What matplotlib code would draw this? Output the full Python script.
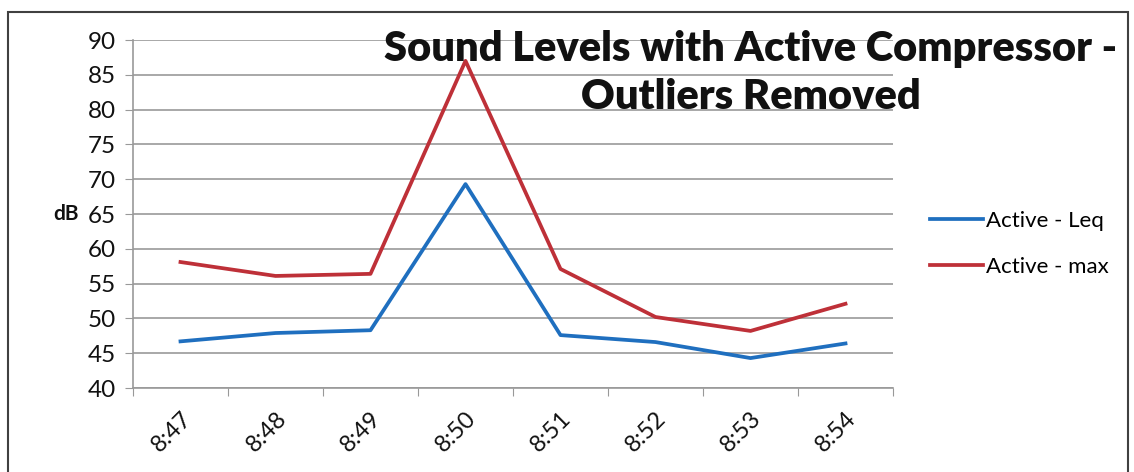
import matplotlib
matplotlib.use('Agg')
import matplotlib.pyplot as plt
from matplotlib.patches import Rectangle

times = ['8:47', '8:48', '8:49', '8:50', '8:51', '8:52', '8:53', '8:54']
leq = [46.7, 47.9, 48.3, 69.3, 47.6, 46.6, 44.3, 46.4]
lmax = [58.1, 56.1, 56.4, 87.0, 57.1, 50.2, 48.2, 52.1]

plt.rcParams['font.family'] = ['Lato', 'DejaVu Sans']

fig = plt.figure(figsize=(11.34, 4.72), dpi=100)
fig.patch.set_facecolor('white')

# outer chart frame
fig.patches.append(Rectangle((8 / 1134, -0.02), 1120 / 1134, 1 - 12 / 472 + 0.02,
                             transform=fig.transFigure, fill=False,
                             edgecolor='#404040', linewidth=1.5))

ax = fig.add_axes([133 / 1134, 84 / 472, 760 / 1134, 348 / 472])
x = list(range(len(times)))
ax.plot(x, leq, color='#1f6fbf', linewidth=2.7, label='Active - Leq')
ax.plot(x, lmax, color='#be3038', linewidth=2.7, label='Active - max')

ax.set_xlim(-0.5, len(times) - 0.5)
ax.set_ylim(40, 90)
ax.set_yticks(range(40, 91, 5))
ax.set_xticks([i - 0.5 for i in range(len(times) + 1)], minor=False)
ax.set_xticklabels([])
ax.set_xticks(x, minor=True)
ax.set_xticklabels(times, minor=True, rotation=45, ha='right', va='top',
                   rotation_mode='anchor', fontsize=17, color='#111111')
ax.tick_params(axis='x', which='minor', length=0, pad=14)
ax.tick_params(axis='x', which='major', length=6, color='#999999', direction='out')
ax.tick_params(axis='y', length=6, color='#999999', labelsize=17.5,
               labelcolor='#111111', pad=6)

ax.grid(axis='y', color='#999999', linewidth=1.2)
ax.set_axisbelow(True)
for s in ['top', 'right']:
    ax.spines[s].set_visible(False)
ax.spines['left'].set_color('#999999')
ax.spines['bottom'].set_color('#999999')
ax.spines['left'].set_linewidth(1.2)
ax.spines['bottom'].set_linewidth(1.2)

ax.set_ylabel('dB', rotation=0, fontsize=15, fontweight='bold', labelpad=16,
              va='center', color='#111111')

fig.text(0.662, 1 - 73 / 472, 'Sound Levels with Active Compressor -\nOutliers Removed',
         ha='center', va='center', multialignment='center', fontsize=30,
         fontweight='heavy', linespacing=1.35, color='#111111')

ax.legend(loc='center left', bbox_to_anchor=(1.022, 0.414), frameon=False,
          fontsize=16, handlelength=2.4, handletextpad=0.15, labelspacing=1.15)

fig.savefig('out.png', dpi=100)
